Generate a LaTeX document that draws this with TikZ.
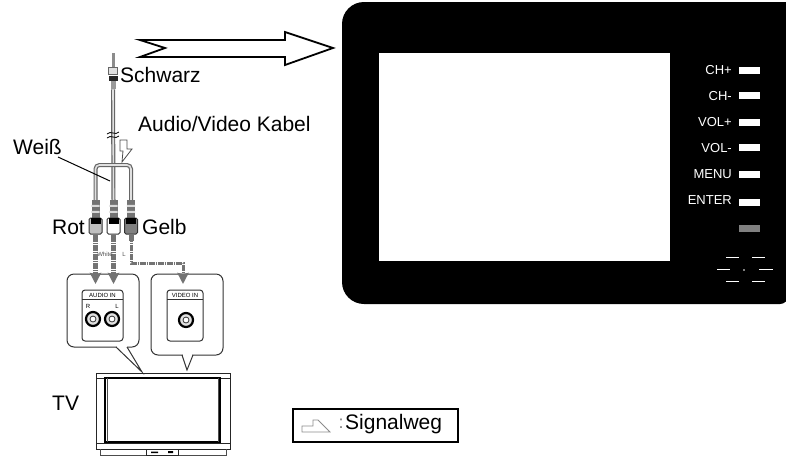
\documentclass[tikz,border=0pt]{standalone}
\usepackage{fontspec}
\setmainfont{Liberation Sans}
\usetikzlibrary{positioning,arrows.meta}
\tikzset{
  label21/.style={inner sep=0pt,font=\fontsize{21}{24}\selectfont},
  keylabel/.style={inner sep=0pt,text=white,anchor=east,font=\fontsize{13}{15}\selectfont},
  keybox/.style={fill=white,inner sep=0pt,minimum width=21pt,minimum height=7pt},
  tiny6/.style={inner sep=0pt,font=\fontsize{6}{7}\selectfont},
  cable/.style={draw=black!60,line width=1.2pt,double=black!12,double distance=1.6pt},
  signal/.style={-{Stealth[length=11pt,width=11pt,inset=1pt]},draw=black!55,line width=4.5pt,dash pattern=on 1.4pt off .4pt},
  callout/.style={draw=black!80,line width=1pt,rounded corners=7pt,fill=white},
  socket/.style={circle,draw=black,line width=2.2pt,fill=black!12,minimum size=14pt,inner sep=0pt},
  plugbody/.style={draw=black!80,line width=1pt,rounded corners=1.5pt,minimum width=13pt,minimum height=16pt,inner sep=0pt},
  plugneck/.style={fill=black!55,minimum width=8pt,minimum height=18pt,inner sep=0pt}
}
\begin{document}
\begin{tikzpicture}[x=1pt,y=-1pt]
\useasboundingbox (0,0) rectangle (786,456);
% monitor
\fill[black,rounded corners=22pt] (800,2) -- (342,2) -- (342,304) -- (500,304) [rounded corners=8pt] -- (788,304) -- (788,-20) -- cycle;
\fill[black] (760,2) rectangle (786,40);
\node[fill=white,inner sep=0pt,minimum width=291pt,minimum height=208pt] (screen) at (524,157) {};
\foreach \name/\lab/\ypos/\keypos in {chp/CH+/70/70,chm/CH-/96/95,volp/VOL+/122/122,volm/VOL-/148/147,menu/MENU/174/174,enter/ENTER/200/202}
{
  \node[keybox] (key\name) at (749.5,\keypos) {};
  \node[keylabel] (lab\name) at (732,\ypos) {\lab};
}
\node[keybox,fill=black!50] (keyled) at (749.5,228) {};
\draw[white,line width=.8pt]
  (726,257) -- (739,257) (752,257) -- (765,257)
  (717,269) -- (730,269) (759,269) -- (773,269)
  (726,281) -- (739,281) (752,281) -- (765,281);
\fill[white] (744,270) circle (.8pt);
% big arrow
\draw[line width=1.8pt,line join=miter] (140,40) -- (285,40) -- (285,32) -- (333,48) -- (285,65) -- (285,57) -- (140,57) -- (165,48) -- cycle;
% jack
\node[fill=black!45,inner sep=0pt,minimum width=3pt,minimum height=14pt] (jacktip) at (113,60) {};
\node[draw=black!60,fill=black!12,inner sep=0pt,minimum width=9pt,minimum height=7pt,below=0pt of jacktip] (jackhead) {};
\node[fill=black!85,inner sep=0pt,minimum width=9pt,minimum height=5pt,below=1pt of jackhead] (jackbody) {};
\node[fill=black!40,inner sep=0pt,minimum width=5pt,minimum height=8pt,below=0pt of jackbody] (jackneck) {};
% three plugs
\foreach \name/\xpos/\col in {rot/95.5/black!25,wei/113.5/white,gelb/131/black!50}
{
  \node[plugneck] (neck\name) at (\xpos,209) {};
  \fill[black!15] ([yshift=-5pt]neck\name.north west) rectangle ([yshift=-7pt]neck\name.north east)
    ([yshift=-11pt]neck\name.north west) rectangle ([yshift=-13pt]neck\name.north east);
  \node[plugbody,fill=\col] (body\name) at (\xpos,226) {};
  \fill[black] ([xshift=2pt]body\name.north west) rectangle ([xshift=-2pt,yshift=-6pt]body\name.north east);
  \node[fill=black!55,inner sep=0pt,minimum width=5pt,minimum height=6pt,below=0pt of body\name] (pin\name) {};
}
% cables
\draw[cable] (jackneck.south) -- (neckwei.north);
\draw[cable,rounded corners=4pt] (neckrot.north) |- (113,165) -| (neckgelb.north);
\draw[black,line width=.8pt] (107,134) .. controls (111,130) and (115,136) .. (119,132)
  (107,138) .. controls (111,134) and (115,140) .. (119,136);
\draw[black!70,fill=white,line width=.8pt] (120,140) -- (127,140) -- (127,149) -- (132,149) -- (122,162) -- (123,151) -- (120,151) -- cycle;
% labels on the cable
\node[label21,anchor=west] (schwarz) at (120,75) {Schwarz};
\node[label21,anchor=west] (avkabel) at (138,124) {Audio/Video Kabel};
\node[label21,anchor=east] (weiss) at (62,147) {Weiß};
\node[label21,anchor=east] (rot) at (85,227) {Rot};
\node[label21,anchor=west] (gelb) at (142,227) {Gelb};
\node[label21,anchor=west] (tv) at (52,403) {TV};
\coordinate (weissstart) at (58,157);
\coordinate (weissend) at (110,181);
\draw[line width=1pt] (weissstart) -- (weissend);
% callouts
\draw[callout] (67,274) rectangle (139,347);
\draw[callout] (151,274) rectangle (223,355);
\fill[white] (117,345) rectangle (127,349) (183,353) rectangle (192,357);
\draw[black!80,line width=1pt] (116,347) -- (142,372) -- (127,347);
\draw[black!80,line width=1pt] (182,355) -- (187,370) -- (193,355);
\node[draw=black!80,line width=1pt,rounded corners=3pt,inner sep=0pt,minimum width=41pt,minimum height=51pt] (panela) at (102.5,315.5) {};
\node[draw=black!80,line width=1pt,rounded corners=3pt,inner sep=0pt,minimum width=36pt,minimum height=51pt] (panelb) at (185,315.5) {};
\draw[black!80] (82,299) -- (123,299) (167,299) -- (203,299);
\node[tiny6] (audioin) at (102.5,295) {AUDIO IN};
\node[tiny6] (videoin) at (185,295) {VIDEO IN};
\node[tiny6] (rlab) at (88,306) {R};
\node[tiny6] (llab) at (117,306) {L};
\node[socket] (sockr) at (93,319) {};
\node[socket] (sockl) at (112,319) {};
\node[socket] (sockv) at (186,320) {};
\foreach \s in {sockr,sockl,sockv}
  \draw[black!80,fill=white,line width=.8pt] (\s) circle (3pt);
% signal
\coordinate (inr) at (95.5,284);
\coordinate (inl) at (113.5,284);
\coordinate (inv) at (183,284);
\draw[signal] (pinrot.south) -- (inr);
\draw[signal] (pinwei.south) -- (inl);
\draw[signal,line width=3pt] (pingelb.south) |- (183,263) -- (inv);
\node[tiny6,text=black!70] (sigw) at (105,254) {White};
\node[tiny6,text=black!70] (sigl) at (124,254) {L};
% tv
\draw[black!85,line width=1pt] (96,373) rectangle (230,449);
\draw[black!85,line width=1pt] (96,378) -- (230,378) (96,443) -- (230,443);
\draw[black,line width=1.2pt] (105,378) rectangle (220,442);
\draw[black!70,line width=.8pt] (107,378) -- (107,442) (218,378) -- (218,442);
\draw[black!70,line width=.8pt] (100,449) -- (100,455) -- (226,455) -- (226,449);
\node[draw=black!85,inner sep=0pt,minimum width=32pt,minimum height=6pt] (tvctl) at (162,452) {};
\fill (151,451.5) rectangle (158,453) (168,451) rectangle (173,453);
% legend
\node[draw=black,line width=1.5pt,inner sep=0pt,minimum width=165pt,minimum height=33pt] (legend) at (375.5,425.5) {};
\draw[black!45,line width=.8pt] (302,426) -- (313,426) -- (313,420) -- (318,420) -- (330,432) -- (302,432) -- cycle;
\node[inner sep=0pt,text=black!50,font=\fontsize{18}{20}\selectfont] (colon) at (341,424) {:};
\node[label21,anchor=west] (signalweg) at (345,424) {Signalweg};
\end{tikzpicture}
\end{document}
